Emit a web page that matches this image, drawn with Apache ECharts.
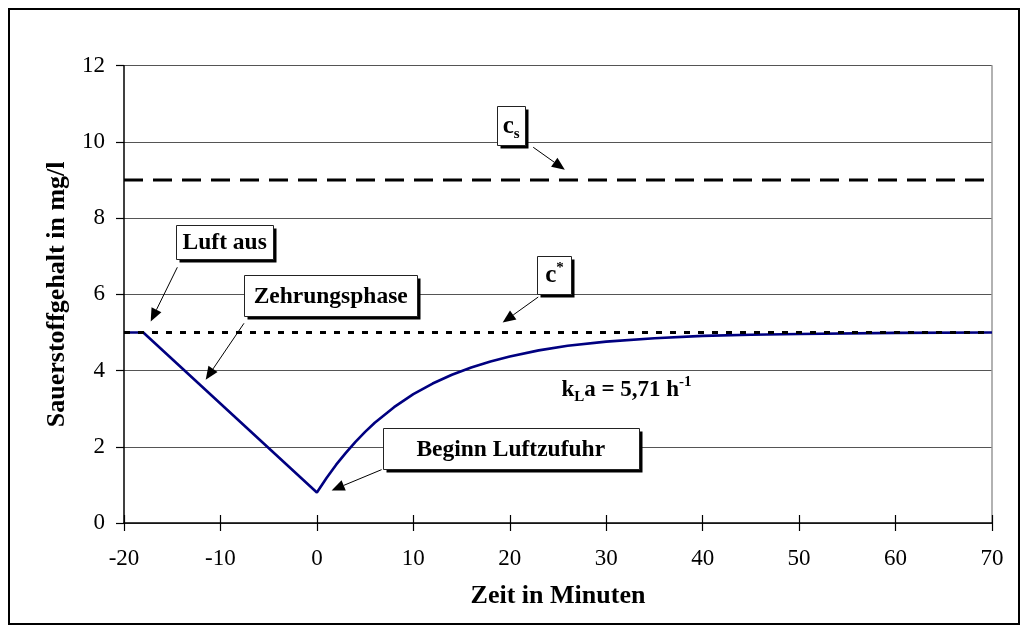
<!DOCTYPE html>
<html><head><meta charset="utf-8">
<script src="https://cdn.jsdelivr.net/npm/echarts@6/dist/echarts.min.js"></script>
<style>html,body{margin:0;padding:0;background:#fff}#c{width:1028px;height:633px}</style>
</head><body><div id="c"></div>
<script>
const FONT = '"Liberation Serif","Times New Roman",Times,serif';

// ---- data ----
const timeMin = [-20, -18, 0, 1, 2, 3, 4, 5, 6, 8, 10, 12, 14, 16, 18, 20, 23, 26, 30, 35, 40, 45, 50, 60, 70];
const oxygen  = [5, 5, 0.8, 1.18, 1.53, 1.84, 2.13, 2.39, 2.63, 3.04, 3.38, 3.66, 3.89, 4.08, 4.24, 4.37, 4.53, 4.65, 4.76, 4.85, 4.91, 4.94, 4.96, 4.99, 5.0];
const csLevel = 9;
const cStarLevel = 5;
const xRange = [-20, 70];
const yRange = [0, 12];
const xTickStep = 10;
const yTickStep = 2;
const xTitle = 'Zeit in Minuten';
const yTitle = 'Sauerstoffgehalt in mg/l';

// ---- annotations (data coordinates) ----
const noteTexts   = ['Luft aus', 'Zehrungsphase', '{b|c}{sub|s}', '{b|c}{sup|*}', 'Beginn Luftzufuhr'];
const noteCenters = [[-9.56, 7.37], [1.43, 5.97], [20.14, 10.43], [24.63, 6.51], [20.1, 1.95]];
const noteSizes   = [[97, 34], [173, 41], [28, 39], [34, 38], [256, 41]];
const arrowFrom   = [[-14.47, 6.71], [-7.56, 5.24], [22.43, 9.86], [22.95, 5.93], [6.71, 1.40]];
const arrowTo     = [[-17.23, 5.29], [-11.53, 3.76], [25.71, 9.27], [19.26, 5.26], [1.53, 0.855]];
const kLaText = '{t|k}{sub|L}{t|a = 5,71 h}{sup|-1}';
const kLaPos = [32.1, 3.5];

const chart = echarts.init(document.getElementById('c'), null, {renderer: 'canvas'});

const pairs = (xs, ys) => xs.map((x, i) => [x, ys[i]]);

chart.setOption({
  animation: false,
  backgroundColor: '#fff',
  grid: {left: 124, right: 36, top: 65.7, bottom: 110, containLabel: false},
  xAxis: [{
    type: 'value', min: xRange[0], max: xRange[1], interval: xTickStep,
    name: xTitle, nameLocation: 'middle', nameGap: 60,
    nameTextStyle: {fontFamily: FONT, fontWeight: 'bold', fontSize: 26, color: '#000'},
    axisLine: {onZero: false, lineStyle: {color: '#000', width: 1.5}},
    axisTick: {show: true, inside: false, length: 8, lineStyle: {color: '#000', width: 1.2}},
    axisLabel: {fontFamily: FONT, fontSize: 23, color: '#000', margin: 24},
    splitLine: {show: false}
  }, {
    type: 'value', min: xRange[0], max: xRange[1], interval: xTickStep, position: 'bottom',
    axisLine: {show: false, onZero: false},
    axisTick: {show: true, inside: true, length: 8, lineStyle: {color: '#000', width: 1.2}},
    axisLabel: {show: false},
    splitLine: {show: false}
  }],
  yAxis: [{
    type: 'value', min: yRange[0], max: yRange[1], interval: yTickStep,
    name: yTitle, nameLocation: 'middle', nameGap: 54,
    nameTextStyle: {fontFamily: FONT, fontWeight: 'bold', fontSize: 26, color: '#000'},
    axisLine: {show: true, onZero: false, lineStyle: {color: '#000', width: 1.5}},
    axisTick: {show: true, inside: false, length: 8, lineStyle: {color: '#000', width: 1.2}},
    axisLabel: {fontFamily: FONT, fontSize: 23, color: '#000', margin: 19},
    splitLine: {show: true, lineStyle: {color: '#555', width: 1}}
  }, {
    type: 'value', min: yRange[0], max: yRange[1], interval: yTickStep, position: 'right',
    axisLine: {show: true, onZero: false, lineStyle: {color: '#999', width: 1.5}},
    axisTick: {show: false}, axisLabel: {show: false}, splitLine: {show: false}
  }],
  series: [{
    type: 'line', name: 'cs', data: [[xRange[0], csLevel], [xRange[1], csLevel]],
    symbol: 'none', lineStyle: {color: '#000', width: 3, type: [19, 10]}, z: 2
  }, {
    type: 'line', name: 'Sauerstoff', data: pairs(timeMin, oxygen),
    symbol: 'none', lineStyle: {color: '#000080', width: 2.6}, z: 3
  }, {
    type: 'line', name: 'c*', data: [[xRange[0], cStarLevel], [xRange[1], cStarLevel]],
    symbol: 'none', lineStyle: {color: '#000', width: 3, type: [6, 8]}, z: 4
  }]
});

function px(p) { return chart.convertToPixel({xAxisIndex: 0, yAxisIndex: 0}, p); }

const richStyles = {
  b: {font: 'bold 25px ' + FONT, fill: '#000', lineHeight: 30},
  t: {font: 'bold 23px ' + FONT, fill: '#000', lineHeight: 30},
  sub: {font: 'bold 15px ' + FONT, fill: '#000', lineHeight: 12, verticalAlign: 'bottom'},
  sup: {font: 'bold 15px ' + FONT, fill: '#000', lineHeight: 12, verticalAlign: 'top'}
};

const g = [];
// outer frame
g.push({type: 'rect', shape: {x: 9, y: 9, width: 1010, height: 615},
  style: {fill: 'none', stroke: '#000', lineWidth: 2}, z: 100});

noteTexts.forEach((txt, i) => {
  const c = px(noteCenters[i]);
  const w = noteSizes[i][0], h = noteSizes[i][1];
  const x0 = Math.round(c[0] - w / 2) + 0.5, y0 = Math.round(c[1] - h / 2) + 0.5;
  g.push({type: 'rect', shape: {x: x0 + 3, y: y0 + 3, width: w, height: h},
    style: {fill: '#000'}, z: 100});
  g.push({type: 'rect', shape: {x: x0, y: y0, width: w, height: h},
    style: {fill: '#fff', stroke: '#222', lineWidth: 1}, z: 101});
  const isRich = txt.indexOf('{') === 0;
  g.push({type: 'text', x: c[0], y: c[1] + 1, z: 102,
    style: isRich
      ? {text: txt, rich: richStyles, align: 'center', verticalAlign: 'middle'}
      : {text: txt, font: 'bold 23.5px ' + FONT, fill: '#000', align: 'center', verticalAlign: 'middle'}});
  // arrow
  const a = px(arrowFrom[i]), b = px(arrowTo[i]);
  const dx = b[0] - a[0], dy = b[1] - a[1];
  const len = Math.sqrt(dx * dx + dy * dy);
  const ux = dx / len, uy = dy / len;
  const hl = 13, hw = 5.5;
  const bx = b[0] - ux * hl, by = b[1] - uy * hl;
  g.push({type: 'line', shape: {x1: a[0], y1: a[1], x2: bx, y2: by},
    style: {stroke: '#000', lineWidth: 1}, z: 102});
  g.push({type: 'polygon', shape: {points: [[b[0], b[1]], [bx - uy * hw, by + ux * hw], [bx + uy * hw, by - ux * hw]]},
    style: {fill: '#000'}, z: 102});
});

const k = px(kLaPos);
g.push({type: 'text', x: k[0], y: k[1], z: 102,
  style: {text: kLaText, rich: richStyles, align: 'center', verticalAlign: 'middle'}});

chart.setOption({graphic: g});
</script>
</body></html>
